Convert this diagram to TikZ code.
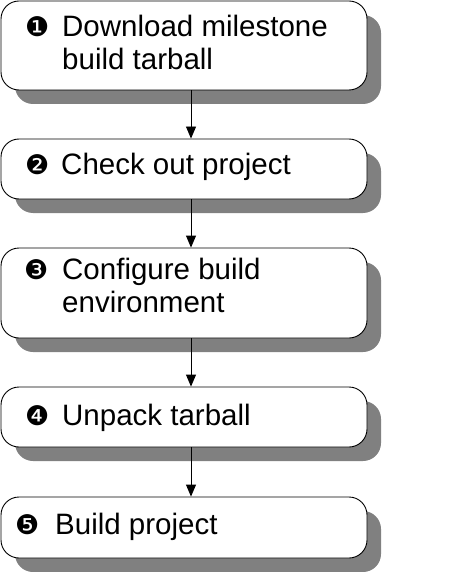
\documentclass[tikz,border=0pt]{standalone}
\usepackage{fontspec}
\setmainfont{Liberation Sans}
\newfontfamily\dingfont{DejaVu Sans}
\usetikzlibrary{arrows.meta,shadows}
\definecolor{shadowgray}{RGB}{128,128,128}
\tikzset{
  stepbox/.style={draw=black, line width=0.9pt, fill=white, rounded corners=18pt,
    minimum width=366pt, inner sep=0pt,
    drop shadow={opacity=1, fill=shadowgray, shadow xshift=14pt, shadow yshift=-14pt}},
  lbl/.style={anchor=base west, inner sep=0pt, font=\fontsize{29.5}{33}\selectfont},
  num/.style={anchor=base west, inner sep=0pt, font=\dingfont\fontsize{27}{27}\selectfont},
  arr/.style={line width=0.9pt, -{Triangle[width=10pt,length=12pt]}}
}
\begin{document}
\begin{tikzpicture}[x=1pt,y=-1pt]
\useasboundingbox (0,0) rectangle (475,572);
\node[stepbox, minimum height=89pt] (b1) at (184,45.5) {};
\node[stepbox, minimum height=60pt] (b2) at (184,169) {};
\node[stepbox, minimum height=90pt] (b3) at (184,293) {};
\node[stepbox, minimum height=60pt] (b4) at (184,417) {};
\node[stepbox, minimum height=61pt] (b5) at (184,527.5) {};
% numbers
\node[num] (n1) at (25,37) {❶};
\node[num] (n2) at (25,175) {❷};
\node[num] (n3) at (24,279) {❸};
\node[num] (n4) at (25,425) {❹};
\node[num] (n5) at (15,534) {❺};
% texts
\node[lbl] (t1a) at (62,37) {Download milestone};
\node[lbl] (t1b) at (62,70) {build tarball};
\node[lbl] (t2) at (61,175) {Check out project};
\node[lbl] (t3a) at (62,279) {Configure build};
\node[lbl] (t3b) at (62,312) {environment};
\node[lbl] (t4) at (62,425) {Unpack tarball};
\node[lbl] (t5) at (55,534) {Build project};
% arrows
\draw[arr] ([xshift=7pt]b1.south) -- ([xshift=7pt]b2.north);
\draw[arr] ([xshift=7pt]b2.south) -- ([xshift=7pt]b3.north);
\draw[arr] ([xshift=7pt]b3.south) -- ([xshift=7pt]b4.north);
\draw[arr] ([xshift=7pt]b4.south) -- ([xshift=7pt]b5.north);
\end{tikzpicture}
\end{document}
